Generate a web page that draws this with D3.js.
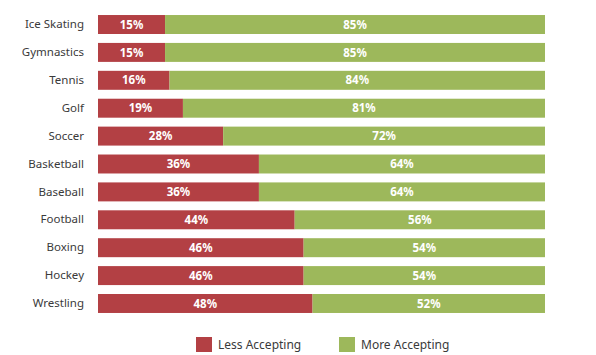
<!DOCTYPE html>
<html><head><meta charset="utf-8">
<script src="https://cdn.jsdelivr.net/npm/d3@7"></script>
<style>body{margin:0;background:#fff}</style>
</head><body><svg id="c" width="596" height="355"></svg>
<script>
const categories = ["Ice Skating","Gymnastics","Tennis","Golf","Soccer","Basketball","Baseball","Football","Boxing","Hockey","Wrestling"];
const lessAccepting = [15,15,16,19,28,36,36,44,46,46,48];
const moreAccepting = [85,85,84,81,72,64,64,56,54,54,52];
const seriesNames = ["Less Accepting","More Accepting"];
const colors = ["#b34044","#9db85b"];

const svg = d3.select("#c");
const x = d3.scaleLinear().domain([0,100]).range([98,545]);
const y = d3.scaleBand().domain(categories).range([6.1,321.9]).padding(0.32);
const font = "'Noto Sans', sans-serif";

const rows = categories.map((c,i)=>({c, a:lessAccepting[i], b:moreAccepting[i]}));
const g = svg.append("g");
rows.forEach(r=>{
  g.append("rect").attr("x",x(0)).attr("y",y(r.c)).attr("width",x(r.a)-x(0)).attr("height",y.bandwidth()).attr("fill",colors[0]);
  g.append("rect").attr("x",x(r.a)).attr("y",y(r.c)).attr("width",x(r.a+r.b)-x(r.a)).attr("height",y.bandwidth()).attr("fill",colors[1]);
  g.append("text").attr("x",(x(0)+x(r.a))/2).attr("y",y(r.c)+y.bandwidth()/2).attr("dy","0.36em")
    .attr("text-anchor","middle").attr("fill","#fff").attr("font-weight","bold").attr("font-size",11.5).attr("font-family",font).text(r.a+"%");
  g.append("text").attr("x",(x(r.a)+x(r.a+r.b))/2).attr("y",y(r.c)+y.bandwidth()/2).attr("dy","0.36em")
    .attr("text-anchor","middle").attr("fill","#fff").attr("font-weight","bold").attr("font-size",11.5).attr("font-family",font).text(r.b+"%");
});
const yAxis = svg.append("g").attr("transform",`translate(${x(0)},0)`).call(d3.axisLeft(y).tickSize(0).tickPadding(14));
yAxis.select(".domain").remove();
yAxis.selectAll("text").attr("font-size",11.5).attr("font-family",font).attr("fill","#3a3a3a");

const leg = svg.append("g");
const lx = [196,339];
seriesNames.forEach((n,i)=>{
  leg.append("rect").attr("x",lx[i]).attr("y",337).attr("width",16).attr("height",15).attr("fill",colors[i]);
  leg.append("text").attr("x",lx[i]+22).attr("y",345).attr("dy","0.36em").attr("font-size",12).attr("font-family",font).attr("fill","#3a3a3a").text(n);
});
</script></body></html>
